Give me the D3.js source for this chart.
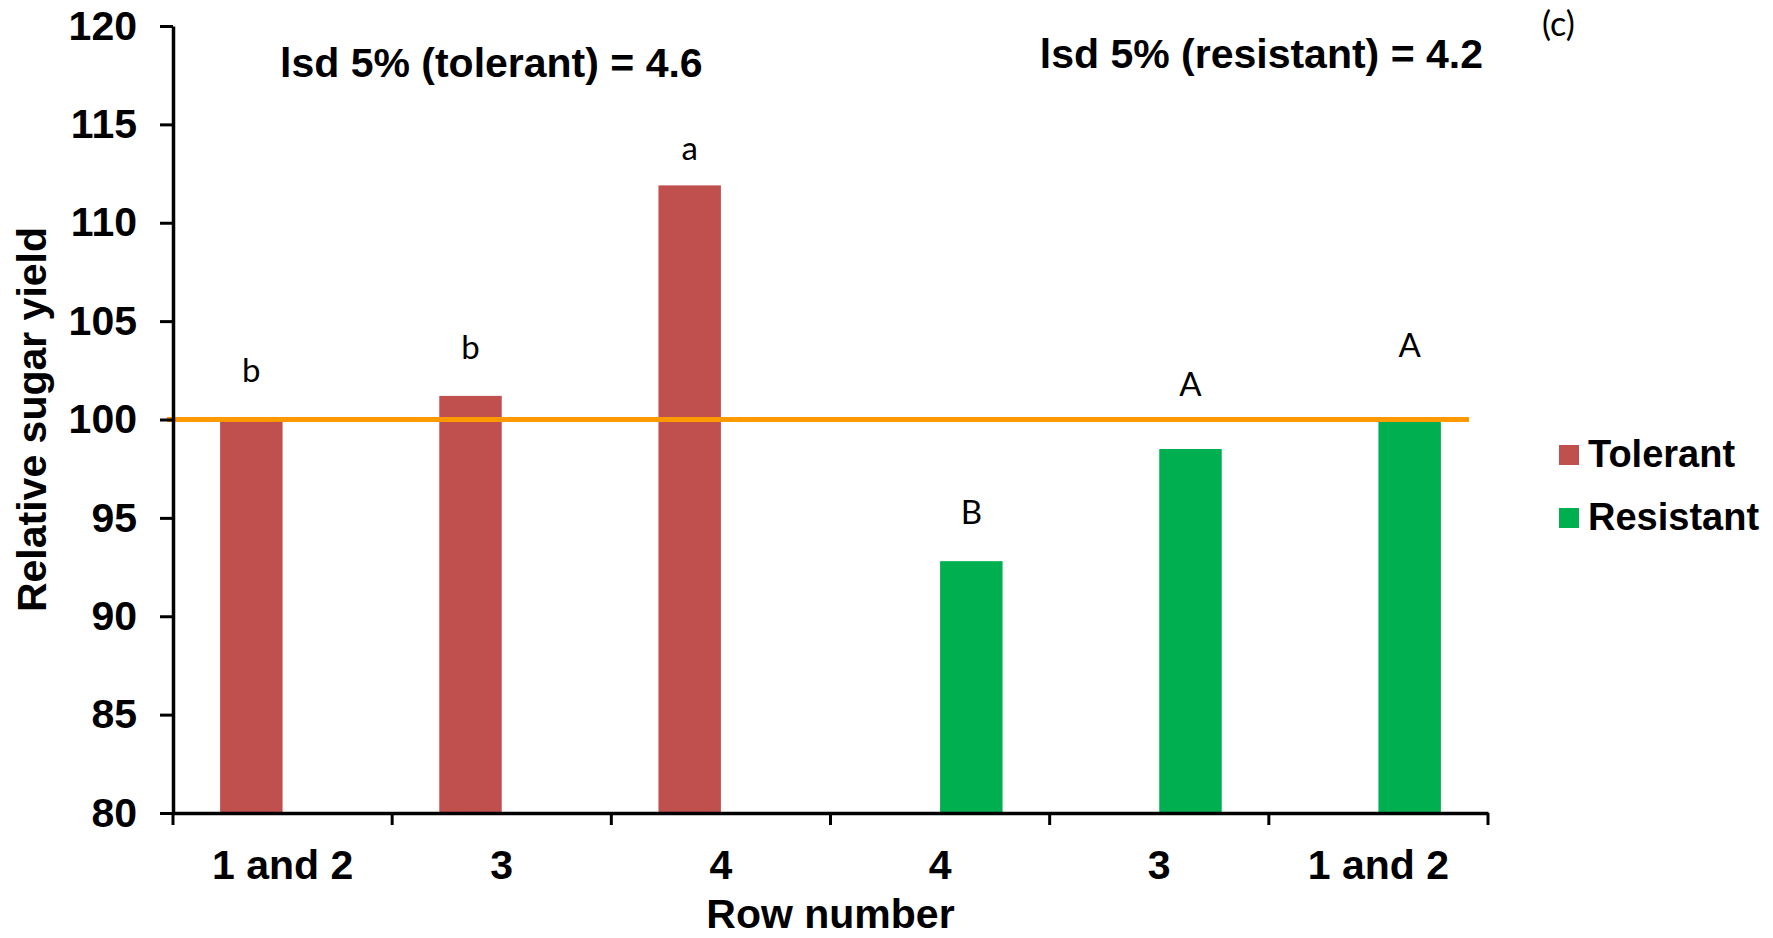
<!DOCTYPE html>
<html>
<head>
<meta charset="utf-8">
<script src="https://cdn.jsdelivr.net/npm/d3@7/dist/d3.min.js"></script>
<style>
    body { margin: 0; background: #fff; }
</style>
</head>
<body>
<script>
//values
var rowLabels = ["1 and 2", "3", "4", "4", "3", "1 and 2"];
var seriesNames = ["Tolerant", "Resistant"];
var tolerant = [100.0, 101.2, 111.9, null, null, null];
var resistant = [null, null, null, 92.8, 98.5, 99.9];
var letters = ["b", "b", "a", "B", "A", "A"];
var letterAt = [101.9, 103.1, 113.2, 94.7, 101.2, 103.2]; //height of each letter, in yield units
var yTicks = [80, 85, 90, 95, 100, 105, 110, 115, 120];
var refValue = 100;
var lsdTexts = ["lsd 5% (tolerant) = 4.6", "lsd 5% (resistant) = 4.2"];
var panelLabel = "(c)";

//begin script when window loads
window.onload = setChart;

function setChart() {
    //frame dimensions
    var width = 1773,
        height = 938;

    var colors = { Tolerant: "#C0504D", Resistant: "#00B050" };
    var boldFont = "'Liberation Sans', Arial, sans-serif";
    var lightFont = "Lato, 'Open Sans', sans-serif";

    var svg = d3.select("body")
        .append("svg")
        .attr("width", width)
        .attr("height", height);

    //scales
    var x = d3.scaleBand()
        .domain(d3.range(rowLabels.length))
        .range([173, 1488]);

    var xInner = d3.scaleBand()
        .domain(seriesNames)
        .range([0, x.bandwidth()])
        .paddingOuter(0.754);

    var y = d3.scaleLinear()
        .domain([80, 120])
        .range([813, 26]);

    //one record per bar that has a value
    var bars = [];
    rowLabels.forEach(function (r, i) {
        if (tolerant[i] != null) bars.push({ i: i, series: "Tolerant", value: tolerant[i] });
        if (resistant[i] != null) bars.push({ i: i, series: "Resistant", value: resistant[i] });
    });

    svg.append("g")
        .selectAll("rect")
        .data(bars)
        .enter()
        .append("rect")
        .attr("x", function (d) { return x(d.i) + xInner(d.series); })
        .attr("width", xInner.bandwidth())
        .attr("y", function (d) { return y(d.value); })
        .attr("height", function (d) { return y(80) - y(d.value); })
        .attr("fill", function (d) { return colors[d.series]; });

    //reference line at 100
    svg.append("line")
        .attr("x1", x.range()[0] - 6)
        .attr("x2", x.range()[1] - 19)
        .attr("y1", y(refValue))
        .attr("y2", y(refValue))
        .attr("stroke", "#FF9900")
        .attr("stroke-width", 5);

    //significance letters above the bars
    svg.append("g")
        .selectAll("text")
        .data(bars)
        .enter()
        .append("text")
        .attr("x", function (d) { return x(d.i) + xInner(d.series) + xInner.bandwidth() / 2; })
        .attr("y", function (d) { return y(letterAt[d.i]); })
        .attr("text-anchor", "middle")
        .style("font-family", lightFont)
        .style("font-size", "33px")
        .style("fill", "#000")
        .text(function (d) { return letters[d.i]; });

    //y axis
    var yAxis = svg.append("g")
        .attr("transform", "translate(" + x.range()[0] + ",0)")
        .call(d3.axisLeft(y).tickValues(yTicks).tickSize(13).tickSizeOuter(0).tickPadding(23));

    //x axis: labels at band centres, ticks at band edges
    var xAxis = svg.append("g")
        .attr("transform", "translate(0," + y(80) + ")")
        .call(d3.axisBottom(x).tickSize(0).tickPadding(37).tickFormat(function (i) { return rowLabels[i]; }));

    var edges = x.domain().map(function (i) { return x(i); }).concat([x.range()[1]]);
    xAxis.selectAll("line.edge")
        .data(edges)
        .enter()
        .append("line")
        .attr("class", "edge")
        .attr("x1", function (d) { return d; })
        .attr("x2", function (d) { return d; })
        .attr("y1", 0)
        .attr("y2", 12)
        .attr("stroke", "#000")
        .attr("stroke-width", 3);

    [yAxis, xAxis].forEach(function (g) {
        g.select(".domain").attr("stroke", "#000").attr("stroke-width", 3.5);
        g.selectAll(".tick line").attr("stroke", "#000").attr("stroke-width", 3);
        g.selectAll(".tick text")
            .style("font-family", boldFont)
            .style("font-weight", "bold")
            .style("font-size", "41px")
            .style("fill", "#000");
    });

    //axis titles
    svg.append("text")
        .attr("transform", "translate(46," + (y(80) + y(120)) / 2 + ") rotate(-90)")
        .attr("text-anchor", "middle")
        .style("font-family", boldFont)
        .style("font-weight", "bold")
        .style("font-size", "41px")
        .text("Relative sugar yield");

    svg.append("text")
        .attr("x", (x.range()[0] + x.range()[1]) / 2)
        .attr("y", 928)
        .attr("text-anchor", "middle")
        .style("font-family", boldFont)
        .style("font-weight", "bold")
        .style("font-size", "41px")
        .text("Row number");

    //lsd notes
    svg.append("text")
        .attr("x", 280)
        .attr("y", 77)
        .style("font-family", boldFont)
        .style("font-weight", "bold")
        .style("font-size", "41px")
        .text(lsdTexts[0]);

    svg.append("text")
        .attr("x", 1483)
        .attr("y", 68)
        .attr("text-anchor", "end")
        .style("font-family", boldFont)
        .style("font-weight", "bold")
        .style("font-size", "41px")
        .text(lsdTexts[1]);

    //panel letter
    svg.append("text")
        .attr("x", 1542)
        .attr("y", 36)
        .style("font-family", lightFont)
        .style("font-size", "34px")
        .text(panelLabel);

    //legend
    var legend = svg.append("g")
        .selectAll("g")
        .data(seriesNames)
        .enter()
        .append("g")
        .attr("transform", function (d, k) { return "translate(1559," + (445 + k * 63) + ")"; });

    legend.append("rect")
        .attr("width", 20)
        .attr("height", 20)
        .attr("fill", function (d) { return colors[d]; });

    legend.append("text")
        .attr("x", 29)
        .attr("y", 22)
        .style("font-family", boldFont)
        .style("font-weight", "bold")
        .style("font-size", "38px")
        .text(function (d) { return d; });
}
</script>
</body>
</html>
